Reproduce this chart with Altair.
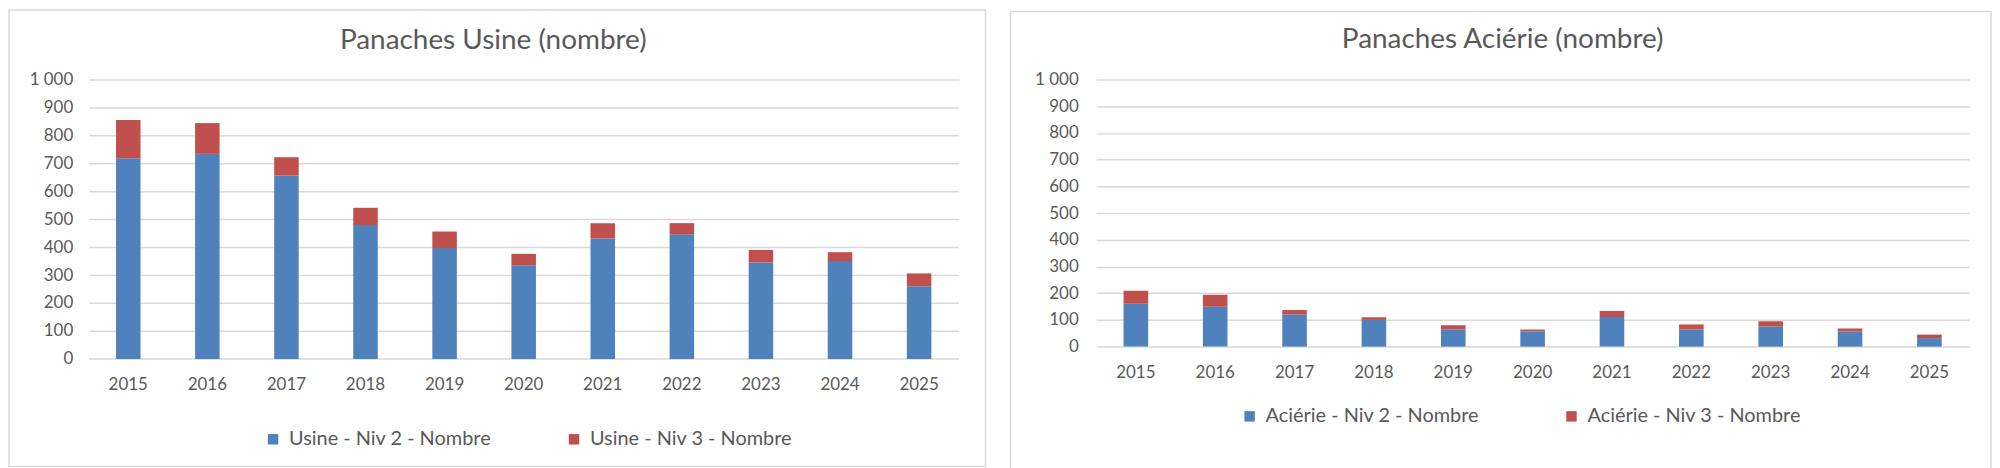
import altair as alt
import pandas as pd

years = ["2015", "2016", "2017", "2018", "2019", "2020", "2021", "2022", "2023", "2024", "2025"]

usine_niv2 = [718, 734, 656, 479, 397, 335, 431, 446, 345, 350, 260]
usine_niv3 = [137, 110, 66, 62, 59, 41, 55, 40, 45, 32, 46]

acierie_niv2 = [161, 149, 120, 100, 64, 57, 111, 64, 76, 57, 32]
acierie_niv3 = [48, 45, 17, 10, 16, 7, 22, 19, 19, 11, 13]

y_ticks = [0, 100, 200, 300, 400, 500, 600, 700, 800, 900, 1000]

BLUE = "#4F81BD"
RED = "#C0504D"
TXT = "#595959"
GRID = "#D9D9D9"
FONT = "Lato"


def make_df(n2, n3, name):
    rows = []
    for y, a, b in zip(years, n2, n3):
        rows.append({"Année": y, "Série": f"{name} - Niv 2 - Nombre", "Valeur": a, "ordre": 0})
        rows.append({"Année": y, "Série": f"{name} - Niv 3 - Nombre", "Valeur": b, "ordre": 1})
    return pd.DataFrame(rows)


def panel(df, name, title, w, h, frame, title_pos, legend_pos, ypad, colpad):
    series = [f"{name} - Niv 2 - Nombre", f"{name} - Niv 3 - Nombre"]
    one = pd.DataFrame({"k": [0]})
    fr = alt.Chart(one).mark_rect(fill="white", fillOpacity=0, stroke=GRID, strokeWidth=1.5).encode(
        x=alt.value(frame[0]), x2=alt.value(frame[1]),
        y=alt.value(frame[2]), y2=alt.value(frame[3]),
    )
    tt = alt.Chart(one).mark_text(
        font=FONT, fontSize=28, color=TXT, align="center", baseline="alphabetic"
    ).encode(x=alt.value(title_pos[0]), y=alt.value(title_pos[1]), text=alt.value(title))
    bars = alt.Chart(df).mark_bar().encode(
        x=alt.X(
            "Année:O",
            sort=years,
            scale=alt.Scale(paddingInner=0.69, paddingOuter=0.345),
            axis=alt.Axis(
                title=None, labelAngle=0, domain=False, ticks=False, labelFont=FONT,
                labelFontSize=17, labelColor=TXT, labelPadding=26, labelBaseline="middle",
            ),
        ),
        y=alt.Y(
            "Valeur:Q",
            stack="zero",
            scale=alt.Scale(domain=[0, 1000], nice=False),
            axis=alt.Axis(
                title=None, values=y_ticks, domain=False, ticks=False, labelFont=FONT,
                labelFontSize=17, labelColor=TXT, labelPadding=ypad, gridColor=GRID,
                gridWidth=1.5, labelExpr="replace(format(datum.value, ','), ',', ' ')",
            ),
        ),
        color=alt.Color(
            "Série:N",
            scale=alt.Scale(domain=series, range=[BLUE, RED]),
            legend=alt.Legend(
                title=None, orient="none", legendX=legend_pos[0], legendY=legend_pos[1],
                direction="horizontal", symbolType="square", symbolSize=110,
                symbolStrokeWidth=0, labelFont=FONT, labelFontSize=20, labelColor=TXT,
                labelOffset=6, columnPadding=colpad, padding=0, labelLimit=500,
            ),
        ),
        order=alt.Order("ordre:Q", sort="ascending"),
    )
    return alt.layer(fr, tt, bars).properties(width=w, height=h)


left = panel(
    make_df(usine_niv2, usine_niv3, "Usine"), "Usine", "Panaches Usine (nombre)",
    873, 280.3, (-80, 900, -69.7, 388.3), (406, -31), (175, 351), 16, 72,
)
right = panel(
    make_df(acierie_niv2, acierie_niv3, "Aciérie"), "Aciérie", "Panaches Aciérie (nombre)",
    876, 268, (-86, 898, -68.3, 390.7), (408, -31.3), (144, 328), 18, 82,
)

chart = (
    alt.hconcat(left, right, spacing=23)
    .resolve_scale(color="independent", y="independent", x="independent")
    .properties(padding=0)
    .configure_view(strokeWidth=0)
)

chart.save("out.html", embed_options={"renderer": "svg", "actions": False})
